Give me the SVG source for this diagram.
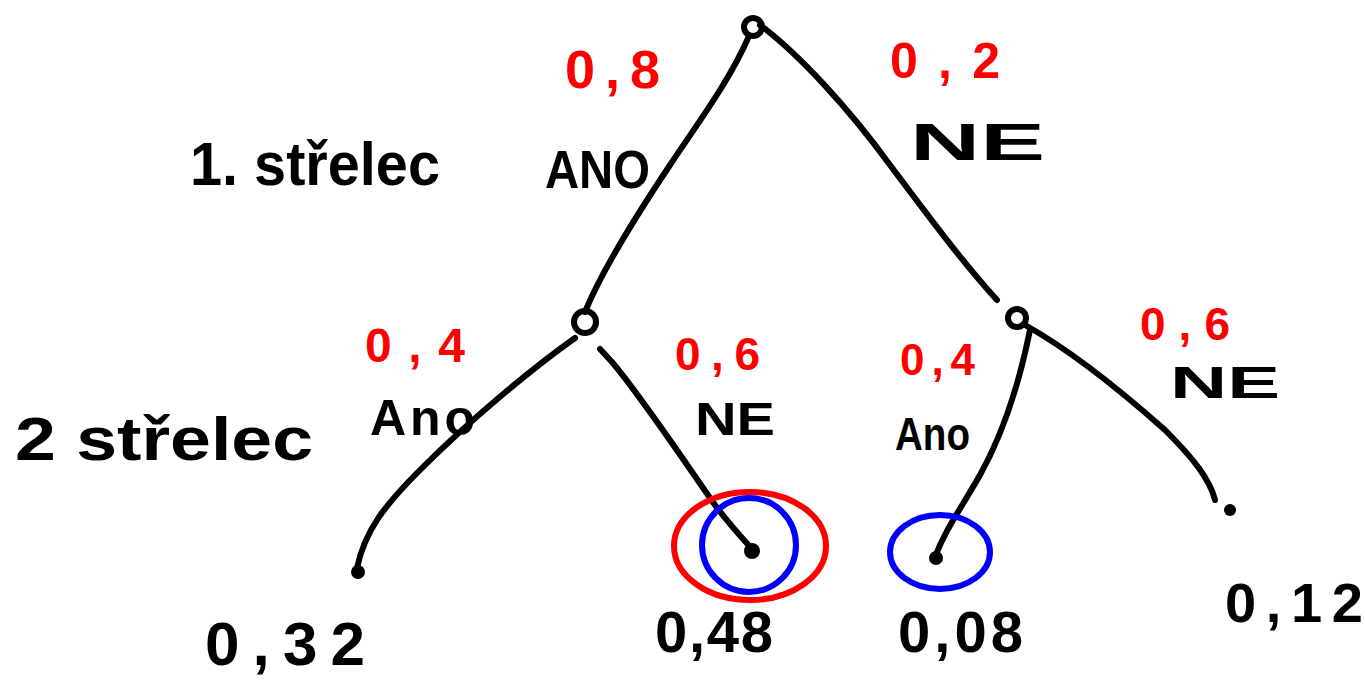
<svg xmlns="http://www.w3.org/2000/svg" width="1365" height="685" viewBox="0 0 1365 685">
<style>
.edge{fill:none;stroke:#000;stroke-width:6;stroke-linecap:round;stroke-linejoin:round}
.node{fill:none;stroke:#000;stroke-width:6}
.dot{fill:#000}
.t{font-family:"Liberation Sans",Arial,sans-serif;font-weight:bold;fill:#000}
.p{font-family:"Liberation Sans",Arial,sans-serif;font-weight:bold;fill:#ff0000}
.red{fill:none;stroke:#ff0000;stroke-width:6;stroke-linecap:round}
.blue{fill:none;stroke:#0000ff;stroke-width:6;stroke-linecap:round}
</style>
<rect width="1365" height="685" fill="#fff"/>
<g id="connectors">
<path class="edge" d="M749,36 C730,80 700,120 670,165 C630,225 600,275 585,312"/>
<path class="edge" d="M760,25 C800,55 850,110 890,165 C935,225 965,265 997,300"/>
<path class="edge" d="M575,338 C530,370 470,420 420,470 C385,505 365,530 357,568"/>
<path class="edge" d="M600,349 L612,362 C640,395 680,455 715,505 C730,525 742,538 752,549"/>
<path class="edge" d="M1030,330 C1020,380 1005,430 980,475 C960,510 945,530 935,557"/>
<path class="edge" d="M1025,325 C1070,350 1120,390 1165,430 C1195,460 1210,480 1215,500"/>
</g>
<g id="root"><circle class="node" cx="753" cy="27" r="9"/></g>
<g id="n-ano"><circle class="node" cx="585" cy="322" r="11"/></g>
<g id="n-ne"><circle class="node" cx="1017" cy="318" r="9"/></g>
<g id="leaf1"><circle class="dot" cx="358" cy="572" r="7"/><text class="t" x="205" y="665" font-size="62" textLength="160" lengthAdjust="spacing">0,32</text></g>
<g id="leaf2">
<circle class="dot" cx="752" cy="551" r="8"/>
<ellipse class="red" cx="750" cy="546" rx="76" ry="54"/>
<ellipse class="blue" cx="749" cy="545" rx="47" ry="47"/>
<text class="t" x="655" y="652" font-size="58" textLength="118" lengthAdjust="spacing">0,48</text></g>
<g id="leaf3">
<circle class="dot" cx="936" cy="558" r="7"/>
<ellipse class="blue" cx="940" cy="552" rx="50" ry="37"/>
<text class="t" x="898" y="652" font-size="58" textLength="125" lengthAdjust="spacing">0,08</text></g>
<g id="leaf4"><circle class="dot" cx="1230" cy="510" r="6"/><text class="t" x="1225" y="622" font-size="56" textLength="138" lengthAdjust="spacing">0,12</text></g>
<g id="labels">
<text class="t" x="190" y="185" font-size="62" textLength="250" lengthAdjust="spacingAndGlyphs">1. střelec</text>
<text class="t" x="15" y="460" font-size="62" textLength="298" lengthAdjust="spacingAndGlyphs">2 střelec</text>
<text class="p" x="565" y="88" font-size="54" textLength="95" lengthAdjust="spacing">0,8</text>
<text class="t" x="545" y="188" font-size="54" textLength="105" lengthAdjust="spacingAndGlyphs">ANO</text>
<text class="p" x="890" y="78" font-size="50" textLength="110" lengthAdjust="spacing">0,2</text>
<text class="t" x="910" y="160" font-size="52" textLength="135" lengthAdjust="spacingAndGlyphs">NE</text>
<text class="p" x="365" y="362" font-size="48" textLength="100" lengthAdjust="spacing">0,4</text>
<text class="t" x="370" y="435" font-size="50" textLength="105" lengthAdjust="spacing">Ano</text>
<text class="p" x="675" y="370" font-size="46" textLength="85" lengthAdjust="spacing">0,6</text>
<text class="t" x="695" y="435" font-size="46" textLength="80" lengthAdjust="spacingAndGlyphs">NE</text>
<text class="p" x="900" y="375" font-size="44" textLength="75" lengthAdjust="spacing">0,4</text>
<text class="t" x="895" y="450" font-size="46" textLength="75" lengthAdjust="spacingAndGlyphs">Ano</text>
<text class="p" x="1140" y="340" font-size="46" textLength="90" lengthAdjust="spacing">0,6</text>
<text class="t" x="1170" y="398" font-size="44" textLength="110" lengthAdjust="spacingAndGlyphs">NE</text>
</g>
</svg>
